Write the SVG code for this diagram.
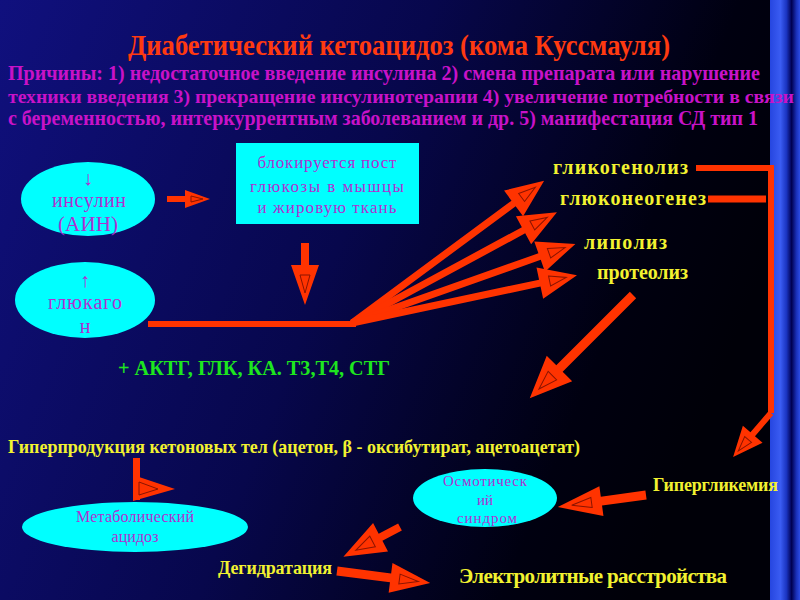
<svg xmlns="http://www.w3.org/2000/svg" width="800" height="600" viewBox="0 0 800 600">
<defs>
<linearGradient id="bg" x1="0" y1="0" x2="1" y2="0.3">
<stop offset="0" stop-color="#10107e"/>
<stop offset="0.5" stop-color="#07074c"/>
<stop offset="0.85" stop-color="#000010"/>
<stop offset="1" stop-color="#000008"/>
</linearGradient>
<linearGradient id="bar" x1="0" y1="0" x2="1" y2="0">
<stop offset="0" stop-color="#2646e0"/>
<stop offset="0.35" stop-color="#3a5cf2"/>
<stop offset="0.55" stop-color="#1a34c0"/>
<stop offset="0.72" stop-color="#000050"/>
<stop offset="0.88" stop-color="#1a30b8"/>
<stop offset="1" stop-color="#2c4ce6"/>
</linearGradient>
<style>
.arr{fill:#ff3300}
.inner{fill:none;stroke:#8a1400;stroke-width:1}
.ln{stroke:#ff3300;fill:none}
.cy{fill:#00ffff}
.pt{font-family:"Liberation Serif","DejaVu Serif",serif;fill:#b030d0;text-anchor:middle}
.yl{font-family:"Liberation Serif","DejaVu Serif",serif;font-weight:bold;fill:#f2f230}
.mg{font-family:"Liberation Serif","DejaVu Serif",serif;font-weight:bold;fill:#c812c8;font-size:21px}
</style>
</defs>
<rect x="0" y="0" width="800" height="600" fill="url(#bg)"/>
<rect x="770" y="0" width="30" height="600" fill="url(#bar)"/>

<g id="title">
<text x="128" y="55" font-family="Liberation Serif, DejaVu Serif, serif" font-weight="bold" font-size="29" fill="#ff3a10" textLength="542" lengthAdjust="spacingAndGlyphs">Диабетический кетоацидоз (кома Куссмауля)</text>
</g>
<g id="causes">
<text class="mg" x="8" y="80" textLength="752" lengthAdjust="spacingAndGlyphs">Причины: 1) недостаточное введение инсулина 2) смена препарата или нарушение</text>
<text class="mg" x="8" y="103" style="font-size:19px" textLength="786" lengthAdjust="spacingAndGlyphs">техники  введения 3) прекращение инсулинотерапии 4) увеличение потребности в связи</text>
<text class="mg" x="8" y="125" textLength="750" lengthAdjust="spacingAndGlyphs">с беременностью, интеркуррентным заболеванием и др. 5) манифестация СД тип 1</text>
</g>

<g id="connectors">
<line class="ln" x1="148" y1="324" x2="356" y2="324" stroke-width="6"/>
<polyline class="ln" points="696,168 771,168 771,413" stroke-width="6"/>
<line class="ln" x1="708" y1="199" x2="766" y2="199" stroke-width="7"/>
<g transform="translate(167,199)"><path class="arr" d="M0,-3 H18 V-9 L43,0 L18,9 V3 H0 Z"/><path class="inner" d="M24,-3 L36,0 L24,3 Z"/></g>
<g transform="translate(305,243) rotate(90)"><path class="arr" d="M0,-4 H22 V-14 L62,0 L22,14 V4 H0 Z"/><path class="inner" d="M32,-5 L50,0 L32,5 Z"/></g>
<g transform="translate(352,323) rotate(-36.5)"><path class="arr" d="M0,-3.5 H201 V-16 L239,0 L201,16 V3.5 H0 Z"/><path class="inner" d="M211,-5 L228,0 L211,5 Z"/></g>
<g transform="translate(352,323) rotate(-28.4)"><path class="arr" d="M0,-3.5 H195 V-16 L233,0 L195,16 V3.5 H0 Z"/><path class="inner" d="M205,-5 L222,0 L205,5 Z"/></g>
<g transform="translate(352,323) rotate(-19.5)"><path class="arr" d="M0,-3.5 H199 V-16 L237,0 L199,16 V3.5 H0 Z"/><path class="inner" d="M209,-5 L226,0 L209,5 Z"/></g>
<g transform="translate(352,323) rotate(-12)"><path class="arr" d="M0,-3.5 H192 V-16 L230,0 L192,16 V3.5 H0 Z"/><path class="inner" d="M202,-5 L219,0 L202,5 Z"/></g>
<g transform="translate(633,295) rotate(135)"><path class="arr" d="M0,-4.5 H104 V-18 L146,0 L104,18 V4.5 H0 Z"/><path class="inner" d="M114,-6 L133,0 L114,6 Z"/></g>
<g transform="translate(771,413) rotate(130.8)"><path class="arr" d="M0,-3 H28 V-13 L58,0 L28,13 V3 H0 Z"/><path class="inner" d="M35,-4.5 L50,0 L35,4.5 Z"/></g>
<g transform="translate(646,495) rotate(172.2)"><path class="arr" d="M0,-4.5 H45 V-15 L89,0 L45,15 V4.5 H0 Z"/><path class="inner" d="M55,-5 L75,0 L55,5 Z"/></g>
<g transform="translate(400,527) rotate(152.2)"><path class="arr" d="M0,-4 H22 V-16 L64,0 L22,16 V4 H0 Z"/><path class="inner" d="M31,-6 L50,0 L31,6 Z"/></g>
<g transform="translate(337,571) rotate(7.35)"><path class="arr" d="M0,-4.5 H54 V-15 L94,0 L54,15 V4.5 H0 Z"/><path class="inner" d="M63,-5 L82,0 L63,5 Z"/></g>
<g><rect class="arr" x="133" y="458" width="7" height="42"/><path class="arr" d="M133,475 L175,489 L133,501 Z"/><path class="inner" d="M139,482 L158,489 L139,495 Z"/></g>
</g>

<g id="insulin">
<ellipse class="cy" cx="88" cy="199" rx="67" ry="37"/>
<text class="pt" x="88" y="185" font-size="20">↓</text>
<text class="pt" x="89" y="207" font-size="20" textLength="74" lengthAdjust="spacing">инсулин</text>
<text class="pt" x="88" y="231" font-size="21" textLength="60" lengthAdjust="spacing">(АИН)</text>
</g>
<g id="glucagon">
<ellipse class="cy" cx="85" cy="300" rx="70" ry="38"/>
<text class="pt" x="85" y="287" font-size="20">↑</text>
<text class="pt" x="85" y="309" font-size="20" textLength="74" lengthAdjust="spacing">глюкаго</text>
<text class="pt" x="85" y="333" font-size="20">н</text>
</g>
<g id="block-box">
<rect class="cy" x="236" y="143" width="183" height="81"/>
<text class="pt" x="327" y="168" font-size="17" textLength="139" lengthAdjust="spacing">блокируется пост</text>
<text class="pt" x="327" y="192" font-size="17" textLength="154" lengthAdjust="spacing">глюкозы в мышцы</text>
<text class="pt" x="327" y="213" font-size="17" textLength="139" lengthAdjust="spacing">и жировую ткань</text>
</g>
<g id="glycogenolysis"><text class="yl" x="553" y="174" font-size="20" textLength="135" lengthAdjust="spacing">гликогенолиз</text></g>
<g id="gluconeogenesis"><text class="yl" x="560" y="205" font-size="20" textLength="146" lengthAdjust="spacing">глюконеогенез</text></g>
<g id="lipolysis"><text class="yl" x="584" y="249" font-size="20" textLength="83" lengthAdjust="spacing">липолиз</text></g>
<g id="proteolysis"><text class="yl" x="597" y="279" font-size="20" textLength="91" lengthAdjust="spacing">протеолиз</text></g>
<g id="hormones"><text x="118" y="375" font-family="Liberation Serif, DejaVu Serif, serif" font-weight="bold" font-size="21" fill="#1ee61e" textLength="272" lengthAdjust="spacingAndGlyphs">+ АКТГ, ГЛК, КА. Т3,Т4,  СТГ</text></g>
<g id="ketones"><text class="yl" x="8" y="453" font-size="19" textLength="572" lengthAdjust="spacingAndGlyphs">Гиперпродукция кетоновых тел (ацетон, β - оксибутират,  ацетоацетат)</text></g>
<g id="acidosis">
<ellipse class="cy" cx="135" cy="527" rx="113" ry="25"/>
<text class="pt" x="135" y="522" font-size="16" textLength="118" lengthAdjust="spacing">Метаболический</text>
<text class="pt" x="135" y="542" font-size="16" textLength="47" lengthAdjust="spacing">ацидоз</text>
</g>
<g id="osmotic">
<ellipse class="cy" cx="485" cy="498" rx="72" ry="29"/>
<text class="pt" x="485" y="486" font-size="15" textLength="84" lengthAdjust="spacing">Осмотическ</text>
<text class="pt" x="485" y="505" font-size="15">ий</text>
<text class="pt" x="487" y="523" font-size="15" textLength="60" lengthAdjust="spacing">синдром</text>
</g>
<g id="hyperglycemia"><text class="yl" x="653" y="491" font-size="18" textLength="125" lengthAdjust="spacing">Гипергликемия</text></g>
<g id="dehydration"><text class="yl" x="218" y="574" font-size="18" textLength="114" lengthAdjust="spacing">Дегидратация</text></g>
<g id="electrolytes"><text class="yl" x="459" y="583" font-size="21" textLength="268" lengthAdjust="spacing">Электролитные расстройства</text></g>
</svg>
